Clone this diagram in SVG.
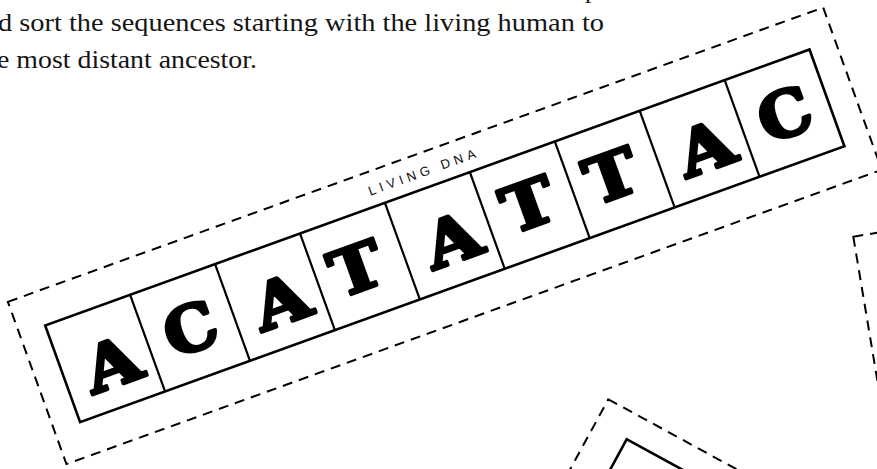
<svg xmlns="http://www.w3.org/2000/svg" width="877" height="469" viewBox="0 0 877 469">
<style>
.intro{font-family:"Liberation Serif","Times New Roman",serif;font-size:26px;fill:#151515}
.cut{fill:none;stroke:#000;stroke-width:2;stroke-dasharray:10 7}
.strip{fill:#fff;stroke:#000;stroke-width:2.6}
.div{stroke:#000;stroke-width:2.2}
.base{font-family:"DejaVu Serif",serif;font-weight:bold;font-size:63px;text-anchor:middle;fill:#000;stroke:#000;stroke-width:3.4;stroke-linejoin:round}
.label{font-family:"Liberation Sans",Arial,sans-serif;font-size:13px;letter-spacing:4.4px;text-anchor:middle;fill:#111}
</style>
<rect width="877" height="469" fill="#fff"/>
<g id="intro-text">
  <text class="intro" x="585" y="-2">p</text>
  <text class="intro" x="-2" y="30.5" textLength="606" lengthAdjust="spacingAndGlyphs">d sort the sequences starting with the living human to</text>
  <text class="intro" x="-3" y="68" textLength="260" lengthAdjust="spacingAndGlyphs">e most distant ancestor.</text>
</g>
<g id="strip-right-partial" transform="translate(853.3,236.7) rotate(-9.5)">
  <rect class="cut" x="0" y="0" width="300" height="300"/>
</g>
<g id="strip-bottom-partial" transform="translate(608.3,399.3) rotate(28.6)">
  <rect class="cut" x="0" y="0" width="400" height="400"/>
  <rect class="strip" x="35.3" y="26.3" width="300" height="300"/>
</g>
<g id="strip-living" transform="translate(444.8,235.8) rotate(-19.85)">
  <rect class="cut" x="-433.4" y="-86.25" width="866.8" height="172.5"/>
  <rect class="strip" x="-406.3" y="-51.4" width="812.6" height="102.8"/>
  <g id="dividers">
    <line class="div" x1="-316" y1="-51.4" x2="-316" y2="51.4"/>
    <line class="div" x1="-225.7" y1="-51.4" x2="-225.7" y2="51.4"/>
    <line class="div" x1="-135.4" y1="-51.4" x2="-135.4" y2="51.4"/>
    <line class="div" x1="-45.1" y1="-51.4" x2="-45.1" y2="51.4"/>
    <line class="div" x1="45.2" y1="-51.4" x2="45.2" y2="51.4"/>
    <line class="div" x1="135.5" y1="-51.4" x2="135.5" y2="51.4"/>
    <line class="div" x1="225.8" y1="-51.4" x2="225.8" y2="51.4"/>
    <line class="div" x1="316.1" y1="-51.4" x2="316.1" y2="51.4"/>
  </g>
  <text class="label" x="2.2" y="-63">LIVING DNA</text>
  <g id="base-1" transform="translate(-356.5,30) scale(1.15,1)"><text class="base">A</text></g>
  <g id="base-2" transform="translate(-270.9,23.5) scale(1.05,1)"><text class="base">C</text></g>
  <g id="base-3" transform="translate(-176.2,28.5) scale(1.15,1)"><text class="base">A</text></g>
  <g id="base-4" transform="translate(-94.4,23.3) scale(1.12,1)"><text class="base">T</text></g>
  <g id="base-5" transform="translate(5.7,28.5) scale(1.15,1)"><text class="base">A</text></g>
  <g id="base-6" transform="translate(89.1,21.7) scale(1.12,1)"><text class="base">T</text></g>
  <g id="base-7" transform="translate(177,22.7) scale(1.12,1)"><text class="base">T</text></g>
  <g id="base-8" transform="translate(275,28.3) scale(1.15,1)"><text class="base">A</text></g>
  <g id="base-9" transform="translate(360.8,23.5) scale(1.05,1)"><text class="base">C</text></g>
</g>
</svg>
